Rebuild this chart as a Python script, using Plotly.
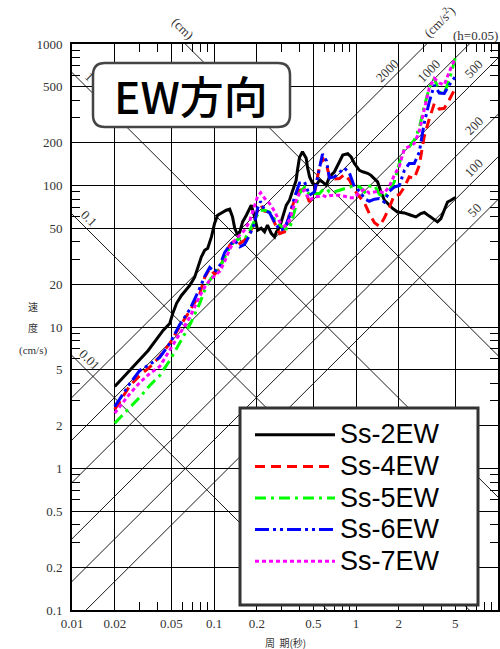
import numpy as np
import plotly.graph_objects as go

# ---------------- data ----------------
periods = [0.02, 0.0256, 0.030, 0.0353, 0.0415, 0.0488, 0.0574, 0.0675, 0.0794, 0.086,
           0.0933, 0.101, 0.110, 0.119, 0.129, 0.140, 0.152, 0.164, 0.178, 0.193,
           0.203, 0.213, 0.227, 0.246, 0.267, 0.290, 0.314, 0.340, 0.369, 0.400,
           0.434, 0.470, 0.510, 0.553, 0.581, 0.620, 0.650, 0.705, 0.765, 0.830,
           0.900, 0.975, 1.06, 1.15, 1.24, 1.35, 1.46, 1.58, 1.72, 1.86,
           2.02, 2.19, 2.37, 2.57, 2.79, 3.02, 3.28, 3.56, 3.86, 4.18,
           4.53, 5.00]

ss4ew = [2.61, 3.86, 4.54, 5.20, 6.19, 7.65, 10.1, 13.0, 17.2, 22.4,
         25.9, 23.6, 25.9, 32.1, 37.8, 41.0, 38.9, 41.0, 45.6, 55.3,
         68.0, 73.1, 65.8, 65.0, 54.5, 45.7, 47.1, 62.6, 78.7, 92.6,
         94.1, 76.5, 88.9, 135, 157, 140, 115, 111, 112, 120,
         109, 92.6, 83.1, 74.9, 63.4, 54.5, 51.5, 58.7, 70.2, 85.4,
         86.1, 97.3, 115, 112, 139, 221, 295, 380, 347, 351,
         402, 486]

ss5ew = [2.09, 2.70, 3.19, 3.86, 4.54, 5.80, 7.78, 10.3, 14.7, 18.2,
         21.4, 23.9, 26.4, 31.1, 36.6, 40.5, 42.2, 41.7, 47.5, 56.4,
         62.6, 66.9, 66.9, 65.0, 57.7, 52.4, 49.6, 49.1, 66.9, 88.2,
         97.3, 85.4, 87.8, 87.8, 92.6, 95.2, 90.1, 90.1, 92.6, 95.2,
         97.7, 100, 98.1, 90.1, 98.9, 100, 86.8, 82.0, 92.6, 106,
         144, 181, 188, 209, 254, 360, 488, 572, 457, 448,
         556, 792]

ss6ew = [2.74, 3.99, 4.93, 5.44, 6.09, 7.65, 10.4, 13.3, 18.8, 22.8,
         26.4, 24.5, 27.3, 33.7, 37.8, 41.0, 36.8, 38.4, 44.5, 54.1,
         69.1, 77.4, 66.9, 64.2, 55.3, 48.3, 49.6, 60.6, 82.6, 104,
         106, 85.4, 90.1, 128, 167, 149, 113, 115, 124, 133,
         122, 97.7, 91.1, 80.6, 77.4, 80.0, 80.9, 76.5, 91.1, 97.3,
         100, 128, 143, 143, 172, 275, 389, 513, 450, 448,
         513, 587]

ss7ew = [2.46, 3.39, 4.05, 4.69, 5.26, 6.83, 9.01, 11.7, 16.5, 19.1,
         21.4, 22.8, 24.8, 29.1, 35.4, 41.0, 44.5, 48.3, 55.9, 70.6,
         84.0, 88.9, 81.3, 74.6, 65.8, 55.3, 51.5, 56.8, 73.8, 88.2,
         92.6, 78.7, 83.1, 84.0, 85.4, 83.1, 84.7, 85.4, 85.4, 84.0,
         82.0, 82.0, 90.1, 94.1, 88.2, 90.1, 91.1, 88.2, 98.9, 118,
         137, 181, 188, 198, 242, 351, 488, 572, 530, 513,
         634, 792]

ss2_periods = [0.02, 0.0344, 0.0438, 0.0488, 0.0513, 0.0545, 0.059, 0.0675, 0.0731, 0.0815,
               0.086, 0.0903, 0.0959, 0.101, 0.106, 0.1127, 0.122, 0.129, 0.135, 0.140,
               0.147, 0.152, 0.159, 0.169, 0.183, 0.193, 0.203, 0.215, 0.227, 0.238,
               0.253, 0.267, 0.275, 0.290, 0.304, 0.314, 0.323, 0.340, 0.350, 0.369,
               0.379, 0.387, 0.400, 0.420, 0.446, 0.455, 0.471, 0.494, 0.525, 0.553,
               0.581, 0.617, 0.650, 0.705, 0.764, 0.807, 0.875, 0.924, 0.975, 1.057,
               1.115, 1.208, 1.276, 1.346, 1.42, 1.50, 1.585, 1.72, 1.81, 1.96,
               2.19, 2.44, 2.64, 2.86, 3.03, 3.28, 3.56, 3.75, 3.96, 4.18,
               4.41, 4.66, 5.0]
ss2ew = [3.80, 6.83, 9.46, 10.6, 12.5, 14.7, 16.7, 19.7, 22.5, 31.3,
         34.8, 36.0, 43.3, 54.1, 61.6, 63.7, 66.9, 68.0, 60.0, 49.9,
         44.5, 47.0, 55.3, 61.6, 72.6, 60.0, 48.3, 49.9, 47.0, 52.4,
         45.9, 43.3, 47.0, 50.9, 60.0, 66.9, 72.6, 78.7, 85.3, 97.7,
         109, 128, 158, 173, 156, 135, 115, 104, 100.5, 109,
         106, 100.5, 115, 125, 147, 164, 168, 159, 143, 128,
         125, 122, 118, 112, 106, 90, 78.7, 72.6, 68.8, 65.0,
         64.0, 61.6, 60.0, 63.4, 64.5, 60.8, 57.4, 55.3, 58.4, 66.9,
         76.5, 78.7, 82.2]

# tripartite reference lines
disp_cm = [0.01, 0.1, 1, 10]                 # displacement lines (cm)
accel_gal = [50, 100, 200, 500, 1000, 2000]  # acceleration lines (cm/s^2)

x_ticks = [0.01, 0.02, 0.05, 0.1, 0.2, 0.5, 1, 2, 5, 10]
x_ticktext = ["0.01", "0.02", "0.05", "0.1", "0.2", "0.5", "1", "2", "5", "10"]
y_ticks = [0.1, 0.2, 0.5, 1, 2, 5, 10, 20, 50, 100, 200, 500, 1000]
y_ticktext = ["0.1", "0.2", "0.5", "1", "2", "5", "10", "20", "50", "100", "200", "500", "1000"]

series = [
    ("Ss-2EW", ss2_periods, ss2ew, "#000000", "solid", 3),
    ("Ss-4EW", periods, ss4ew, "#ff0000", "10px,6px", 3),
    ("Ss-5EW", periods, ss5ew, "#00ff00", "11px,5px,3px,5px", 3),
    ("Ss-6EW", periods, ss6ew, "#0000ff", "14px,4px,3px,4px,3px,4px", 3),
    ("Ss-7EW", periods, ss7ew, "#ff00ff", "4px,3px", 3),
]

TWO_PI = 2 * np.pi
fig = go.Figure()

t_ext = np.array([0.01, 10.0])
for d in disp_cm:
    fig.add_trace(go.Scatter(x=t_ext, y=TWO_PI * d / t_ext, mode="lines",
                             line=dict(color="black", width=0.9),
                             showlegend=False, hoverinfo="skip"))
for a in accel_gal:
    fig.add_trace(go.Scatter(x=t_ext, y=a * t_ext / TWO_PI, mode="lines",
                             line=dict(color="black", width=0.9),
                             showlegend=False, hoverinfo="skip"))

for name, xs, ys, col, dash, w in series:
    fig.add_trace(go.Scatter(x=xs, y=ys, mode="lines",
                             name=f'<span style="font-size:27px">{name}</span>',
                             line=dict(color=col, dash=dash, width=w)))

label_font = dict(family="Liberation Serif", size=13, color="#333")
ann = []
# displacement line labels
for d, txt in [(1, "1"), (0.1, "0.1"), (0.01, "0.01")]:
    t = 0.0122
    ann.append(dict(x=np.log10(t), y=np.log10(TWO_PI * d / t), text=txt,
                    showarrow=False, textangle=45, xshift=5, yshift=8, font=label_font,
                    xanchor="center", yanchor="middle"))
ann.append(dict(xref="paper", yref="paper", x=(183 - 72) / 426, y=(610 - 28) / 566,
                text="(cm)", showarrow=False, textangle=45, font=label_font,
                xanchor="center", yanchor="middle"))
# acceleration line labels
for a, t in [(2000, 1.80), (1000, 3.56), (500, 7.36), (200, 7.36), (100, 7.36), (50, 7.36)]:
    ann.append(dict(x=np.log10(t), y=np.log10(a * t / TWO_PI), text=str(a),
                    showarrow=False, textangle=-45, xshift=-5, yshift=8, font=label_font,
                    xanchor="center", yanchor="middle"))
ann.append(dict(xref="paper", yref="paper", x=(439 - 72) / 426, y=(610 - 21) / 566,
                text="(cm/s<sup>2</sup>)", showarrow=False, textangle=-45, font=label_font,
                xanchor="center", yanchor="middle"))
ann.append(dict(xref="paper", yref="paper", x=(475 - 72) / 426, y=(610 - 36) / 566,
                text="(h=0.05)", showarrow=False, font=label_font,
                xanchor="center", yanchor="middle"))

# axis titles
small = dict(family="Noto Sans CJK JP", size=10, color="#333")
for txt, yy, fnt in [("速", 306, small), ("度", 327, small),
                     ("(cm/s)", 350, dict(family="Liberation Serif", size=11, color="#333"))]:
    ann.append(dict(xref="paper", yref="paper", x=(33 - 72) / 426, y=(610 - yy) / 566,
                    text=txt, showarrow=False, font=fnt, xanchor="center", yanchor="middle"))
ann.append(dict(xref="paper", yref="paper", x=0.5, y=(610 - 642) / 566, text="周  期(秒)",
                showarrow=False, font=small, xanchor="center", yanchor="middle"))

# title box
ann.append(dict(xref="paper", yref="paper", x=(191 - 72) / 426, y=(610 - 95) / 566,
                text="EW方向", showarrow=False, xanchor="center", yanchor="middle",
                font=dict(family="Noto Sans CJK JP", size=44, color="black", weight=500)))

x0, x1, y0, y1 = (93 - 72) / 426, (290 - 72) / 426, (610 - 127) / 566, (610 - 63) / 566
rx, ry = 12 / 426, 12 / 566
path = (f"M{x0+rx},{y1} L{x1-rx},{y1} Q{x1},{y1} {x1},{y1-ry} L{x1},{y0+ry} "
        f"Q{x1},{y0} {x1-rx},{y0} L{x0+rx},{y0} Q{x0},{y0} {x0},{y0+ry} "
        f"L{x0},{y1-ry} Q{x0},{y1} {x0+rx},{y1} Z")
shapes = [
    dict(type="path", xref="paper", yref="paper", path=path,
         line=dict(color="#444", width=2.5), fillcolor="white", layer="above"),
    # legend frame
    dict(type="rect", xref="paper", yref="paper",
         x0=(240 - 72) / 426, x1=(478 - 72) / 426, y0=(610 - 605) / 566, y1=(610 - 408) / 566,
         line=dict(color="#333", width=3), fillcolor="white", layer="above"),
]

def minor_vals(lo, hi):
    out = []
    for e in range(lo, hi):
        for m in [3, 4, 6, 7, 8, 9]:
            out.append(m * 10.0 ** e)
    return out

tick_font = dict(family="Liberation Serif", size=13, color="#333")
fig.update_layout(
    width=500, height=649,
    margin=dict(l=72, r=2, t=44, b=39),
    paper_bgcolor="white", plot_bgcolor="white",
    annotations=ann, shapes=shapes,
    xaxis=dict(type="log", range=[-2, 1], tickvals=x_ticks, ticktext=x_ticktext,
               showgrid=True, gridcolor="black", gridwidth=1.1,
               showline=True, linecolor="black", linewidth=2, mirror="allticks",
               ticks="", tickfont=tick_font, ticklabelstandoff=0, automargin=False,
               zeroline=False,
               minor=dict(tickvals=minor_vals(-2, 1), ticks="inside", ticklen=8,
                          tickwidth=1.3, tickcolor="black", showgrid=False)),
    yaxis=dict(type="log", range=[-1, 3], tickvals=y_ticks, ticktext=y_ticktext,
               showgrid=True, gridcolor="black", gridwidth=1.1,
               showline=True, linecolor="black", linewidth=2, mirror="allticks",
               ticks="", tickfont=tick_font, ticklabelstandoff=5, automargin=False,
               zeroline=False,
               minor=dict(tickvals=minor_vals(-1, 3), ticks="inside", ticklen=8,
                          tickwidth=1.3, tickcolor="black", showgrid=False)),
    legend=dict(x=(250 - 72) / 426, y=(610 - 414) / 566, xanchor="left", yanchor="top",
                bgcolor="rgba(0,0,0,0)", borderwidth=0,
                font=dict(family="Liberation Sans", size=22, color="black"),
                itemwidth=80, tracegroupgap=0),
    showlegend=True,
)

fig.write_html(
    "out.html",
    config={"displayModeBar": False},
    post_script="document.body.style.margin='0';document.body.style.overflow='hidden';",
)
